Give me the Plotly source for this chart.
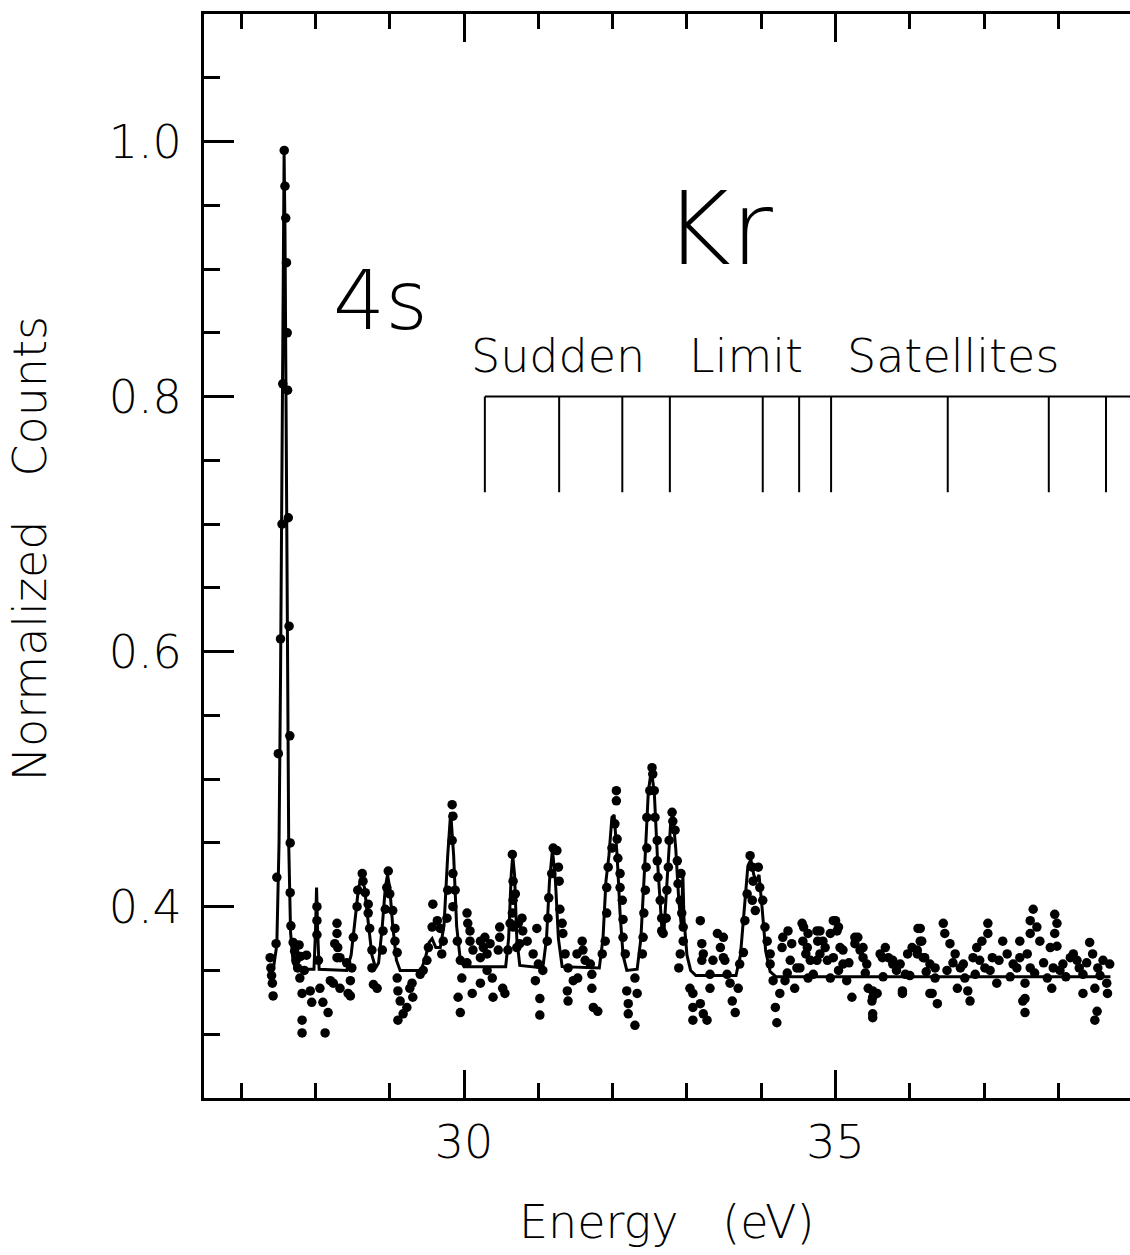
import plotly.graph_objects as go

# ---------------- data ----------------
data_E = [
    27.39, 27.40, 27.41, 27.42, 27.43, 27.47, 27.48, 27.50, 27.53, 27.55, 27.56, 27.58, 27.59, 27.60,
    27.61, 27.62, 27.625, 27.635, 27.645, 27.655, 27.66, 27.66, 27.67, 27.70,
    27.72, 27.74, 27.76, 27.78, 27.80, 27.79, 27.82, 27.85, 27.88, 27.93, 27.95, 27.82, 27.82,
    28.02, 28.02, 28.02, 28.04, 28.06, 28.10, 28.13, 28.17, 28.20, 28.24, 28.29, 28.29, 28.30, 28.29,
    28.33, 28.44,
    28.26, 28.33, 28.42, 28.49, 28.47, 28.47, 28.51, 28.56, 28.57, 28.63, 28.64, 28.67, 28.71, 28.71,
    28.73, 28.76, 28.76, 28.78, 28.83, 28.90, 28.91, 28.94, 28.96, 28.98, 29.00, 29.04, 29.07, 29.07,
    29.10, 29.10, 29.11, 29.14, 29.11, 29.18, 29.23, 29.27, 29.31, 29.30, 29.41, 29.45, 29.50, 29.52,
    29.57, 29.58, 29.64, 29.68, 29.72, 29.70, 29.77, 29.78, 29.84, 29.84, 29.85, 29.85, 29.88, 29.85,
    29.91, 29.95, 29.97, 29.92, 29.95, 30.11, 30.04, 30.05, 30.08, 30.08, 30.12, 30.04, 30.22, 30.26,
    30.31, 30.22, 30.28, 30.35, 30.22, 30.31, 30.38, 30.39, 30.48, 30.48, 30.46, 30.52, 30.55,
    30.59, 30.62, 30.65, 30.66, 30.66, 30.69, 30.65, 30.66, 30.71, 30.73, 30.78, 30.79, 30.85, 30.98,
    30.75, 30.93, 31.00, 30.96, 31.02, 31.02, 31.06,
    31.12, 31.13, 31.14, 31.18, 31.20, 31.25, 31.27, 31.28, 31.29, 31.32, 31.33, 31.36, 31.40, 31.39,
    31.40, 31.47, 31.52, 31.59, 31.60, 31.63, 31.70, 31.72, 31.74, 31.80, 31.72, 31.53,
    31.86, 31.90, 31.92, 31.92, 31.94, 31.99, 32.03, 32.05, 32.05, 32.06, 32.07, 32.10, 32.10, 32.13,
    32.14, 32.14, 32.17, 32.19, 32.21, 32.21, 32.30, 32.33, 32.30,
    32.40, 32.41, 32.42, 32.44, 32.45, 32.46, 32.46, 32.50, 32.53, 32.54, 32.56, 32.57, 32.60, 32.60,
    32.61, 32.64, 32.66, 32.66, 32.68,
    32.72, 32.73, 32.75, 32.76, 32.80, 32.81, 32.84, 32.87, 32.88, 32.91, 32.92, 32.93, 32.95, 32.95,
    32.91, 32.89,
    33.04, 33.08, 33.08, 33.08, 33.18, 33.20, 33.22, 33.20, 33.18, 33.22, 33.27, 33.31, 33.31, 33.35,
    33.41, 33.45, 33.49, 33.54, 33.49, 33.51, 33.58, 33.61, 33.65, 33.69, 33.71, 33.76, 33.78, 33.81,
    33.85, 33.88, 33.89, 33.88, 33.92, 33.96, 33.98, 34.02, 34.05, 34.08, 34.12, 34.12, 34.16, 34.19,
    34.21, 34.25, 34.32, 34.28, 34.29, 34.36, 34.41, 34.39, 34.48, 34.45, 34.55, 34.56, 34.62, 34.63,
    34.66, 34.75, 34.76, 34.79, 34.83, 34.89, 34.93, 35.00, 35.02, 35.06, 35.10, 35.15, 35.22, 35.26,
    35.33, 35.37, 35.44, 35.50, 35.50, 35.56, 35.60, 35.67, 35.71, 35.77, 35.90, 35.94, 36.03, 36.10,
    36.14, 36.14, 36.20, 36.27, 36.34, 36.37,
    34.57, 34.63, 34.60, 34.75, 34.79, 34.86, 34.93, 34.97, 35.04, 34.97, 35.10, 35.26, 35.30, 35.37,
    35.42, 35.50, 35.49, 35.50, 35.63, 35.77, 35.87, 35.90, 35.97, 36.11, 36.16, 36.10, 36.18, 36.27,
    36.34, 36.30,
    36.45, 36.47, 36.54, 36.61, 36.68, 36.64, 36.72, 36.74, 36.81, 36.78, 36.85, 36.90, 36.97, 37.05,
    37.05, 36.94, 37.01, 37.11, 37.17, 37.25, 37.31, 37.39, 37.48, 37.48, 37.52, 37.58, 37.62, 37.55,
    37.55, 37.55, 37.62, 37.66, 37.62, 37.71, 37.75, 37.89, 37.95, 37.98, 37.95, 37.98, 37.93, 37.91,
    38.06, 38.16, 38.20, 38.25, 38.33, 38.33, 38.42, 38.46, 38.53, 38.49, 38.52, 38.49, 38.60, 38.69,
    38.65, 38.66,
    36.50, 36.58, 36.88, 37.08, 37.20, 37.35, 37.44, 37.68, 37.80, 37.85, 38.02, 38.10, 38.28, 38.38,
    38.56, 34.35, 34.52, 34.70, 35.04, 35.18, 35.40, 35.64, 35.82, 36.00, 36.22,
]
data_counts = [
    0.360, 0.352, 0.346, 0.340, 0.330, 0.371, 0.423, 0.520, 0.610, 0.700, 0.810, 0.993, 0.965, 0.940,
    0.905, 0.850, 0.805, 0.705, 0.620, 0.534, 0.450, 0.411, 0.385, 0.372,
    0.365, 0.358, 0.352, 0.370, 0.361, 0.344, 0.332, 0.350, 0.362, 0.334, 0.325, 0.311, 0.301,
    0.400, 0.389, 0.378, 0.358, 0.336, 0.325, 0.301, 0.317, 0.342, 0.340, 0.387, 0.379, 0.368, 0.360,
    0.336, 0.332,
    0.371, 0.360, 0.356, 0.352, 0.342, 0.330, 0.376, 0.400, 0.413, 0.426, 0.420, 0.411, 0.402, 0.395,
    0.383, 0.366, 0.352, 0.339, 0.336, 0.366, 0.381, 0.398, 0.415, 0.428, 0.410, 0.397, 0.383, 0.373,
    0.364, 0.344, 0.334, 0.326, 0.311, 0.316, 0.321, 0.336, 0.329, 0.340, 0.347, 0.350, 0.358, 0.368,
    0.384, 0.402, 0.389, 0.383, 0.373, 0.363, 0.391, 0.413, 0.452, 0.480, 0.471, 0.426, 0.413, 0.400,
    0.373, 0.358, 0.344, 0.329, 0.317, 0.332, 0.395, 0.387, 0.381, 0.373, 0.366, 0.356, 0.373, 0.368,
    0.363, 0.360, 0.376, 0.371, 0.340, 0.350, 0.344, 0.329, 0.384, 0.376, 0.366, 0.336, 0.332,
    0.366, 0.387, 0.441, 0.420, 0.405, 0.410, 0.395, 0.384, 0.368, 0.387, 0.391, 0.381, 0.373, 0.383,
    0.371, 0.363, 0.355, 0.342, 0.328, 0.315, 0.350,
    0.373, 0.391, 0.407, 0.426, 0.446, 0.444, 0.431, 0.420, 0.398, 0.387, 0.379, 0.363, 0.352, 0.334,
    0.326, 0.342, 0.363, 0.373, 0.366, 0.358, 0.355, 0.336, 0.321, 0.318, 0.347, 0.344,
    0.363, 0.373, 0.395, 0.415, 0.431, 0.446, 0.465, 0.491, 0.483, 0.453, 0.438, 0.426, 0.415, 0.405,
    0.390, 0.376, 0.363, 0.334, 0.324, 0.316, 0.307, 0.332, 0.344,
    0.363, 0.376, 0.395, 0.413, 0.431, 0.446, 0.470, 0.491, 0.509, 0.504, 0.491, 0.470, 0.452, 0.436,
    0.423, 0.405, 0.391, 0.381, 0.379,
    0.391, 0.413, 0.431, 0.452, 0.474, 0.467, 0.460, 0.436, 0.418, 0.405, 0.426, 0.395, 0.384, 0.373,
    0.363, 0.352,
    0.336, 0.332, 0.321, 0.311, 0.389, 0.371, 0.363, 0.358, 0.324, 0.316, 0.311, 0.336, 0.347, 0.358,
    0.379, 0.368, 0.360, 0.347, 0.376, 0.358, 0.340, 0.326, 0.317, 0.336, 0.355, 0.364, 0.389, 0.410,
    0.440, 0.431, 0.420, 0.405, 0.397, 0.431, 0.415, 0.405, 0.384, 0.373, 0.363, 0.355, 0.342, 0.321,
    0.309, 0.332, 0.342, 0.368, 0.376, 0.381, 0.371, 0.358, 0.352, 0.336, 0.387, 0.373, 0.368, 0.344,
    0.358, 0.381, 0.373, 0.363, 0.373, 0.358, 0.344, 0.389, 0.381, 0.368, 0.355, 0.342, 0.329, 0.376,
    0.366, 0.360, 0.336, 0.316, 0.329, 0.332, 0.363, 0.368, 0.360, 0.355, 0.332, 0.347, 0.368, 0.363,
    0.383, 0.373, 0.360, 0.332, 0.352, 0.324,
    0.384, 0.379, 0.363, 0.358, 0.381, 0.368, 0.379, 0.389, 0.384, 0.360, 0.366, 0.371, 0.376, 0.368,
    0.355, 0.334, 0.326, 0.313, 0.360, 0.358, 0.355, 0.334, 0.363, 0.383, 0.373, 0.366, 0.360, 0.355,
    0.344, 0.332,
    0.387, 0.379, 0.371, 0.363, 0.352, 0.336, 0.355, 0.344, 0.326, 0.334, 0.360, 0.368, 0.373, 0.387,
    0.379, 0.358, 0.352, 0.360, 0.340, 0.373, 0.363, 0.355, 0.373, 0.360, 0.326, 0.363, 0.352, 0.340,
    0.328, 0.317, 0.379, 0.398, 0.389, 0.384, 0.373, 0.368, 0.394, 0.387, 0.379, 0.369, 0.352, 0.336,
    0.355, 0.360, 0.363, 0.358, 0.347, 0.332, 0.372, 0.363, 0.352, 0.336, 0.318, 0.311, 0.358, 0.355,
    0.340, 0.332,
    0.350, 0.356, 0.347, 0.350, 0.358, 0.345, 0.352, 0.348, 0.356, 0.344, 0.350, 0.345, 0.352, 0.356,
    0.346, 0.348, 0.352, 0.347, 0.350, 0.356, 0.348, 0.345, 0.350, 0.346, 0.349,
]

# fitted curve, vertices
fit_E = [
    27.36, 27.44, 27.48, 27.51, 27.53, 27.55, 27.565, 27.578, 27.59, 27.605, 27.62, 27.64, 27.665,
    27.70, 27.75, 27.98, 28.00, 28.015, 28.03, 28.05, 28.42, 28.48, 28.53, 28.58, 28.62, 28.66,
    28.71, 28.76, 28.81, 28.85, 28.90, 28.94, 28.97, 29.00, 29.04, 29.09, 29.14, 29.42, 29.48,
    29.53, 29.57, 29.62, 29.68, 29.73, 29.78, 29.82, 29.86, 29.90, 29.95, 30.00, 30.56, 30.60,
    30.635, 30.655, 30.68, 30.71, 30.75, 31.06, 31.11, 31.15, 31.19, 31.23, 31.27, 31.32, 31.82,
    31.87, 31.91, 31.95, 31.99, 32.02, 32.06, 32.10, 32.14, 32.19, 32.33, 32.38, 32.43, 32.48,
    32.52, 32.56, 32.61, 32.66, 32.69, 32.73, 32.78, 32.81, 32.85, 32.89, 32.925, 32.945, 32.96,
    33.00, 33.05, 33.12, 33.66, 33.72, 33.77, 33.82, 33.86, 33.90, 33.93, 33.97, 34.01, 34.06,
    34.12, 34.20, 38.70,
]
fit_counts = [
    0.352, 0.354, 0.370, 0.450, 0.580, 0.760, 0.920, 0.990, 0.930, 0.770, 0.590, 0.450, 0.380,
    0.356, 0.351, 0.351, 0.380, 0.415, 0.380, 0.351, 0.350, 0.362, 0.388, 0.415, 0.423, 0.415,
    0.388, 0.362, 0.352, 0.356, 0.385, 0.415, 0.425, 0.415, 0.385, 0.358, 0.350, 0.350, 0.360,
    0.372, 0.375, 0.368, 0.368, 0.385, 0.440, 0.474, 0.440, 0.385, 0.358, 0.353, 0.353, 0.375,
    0.425, 0.440, 0.425, 0.375, 0.354, 0.352, 0.375, 0.420, 0.445, 0.420, 0.375, 0.353, 0.352,
    0.375, 0.420, 0.440, 0.470, 0.472, 0.440, 0.395, 0.362, 0.350, 0.351, 0.375, 0.430, 0.490,
    0.507, 0.490, 0.430, 0.385, 0.380, 0.420, 0.465, 0.472, 0.445, 0.405, 0.385, 0.425, 0.390,
    0.362, 0.350, 0.346, 0.346, 0.362, 0.400, 0.432, 0.437, 0.425, 0.420, 0.425, 0.400, 0.365,
    0.349, 0.345, 0.345,
]

# sudden-limit satellite markers (eV) and bracket levels
satellite_E = [30.28, 31.28, 32.13, 32.77, 34.02, 34.51, 34.94, 36.51, 37.87, 38.64]
bracket_top = 0.80
bracket_bottom = 0.725

x_range = [26.5, 38.963]
y_range = [0.25, 1.10]

FONT = "DejaVu Sans"
W = 200
SP = "\u00a0\u00a0\u00a0"

fig = go.Figure()
fig.add_trace(go.Scatter(x=fit_E, y=fit_counts, mode="lines",
                         line=dict(color="black", width=3), showlegend=False, hoverinfo="skip"))
fig.add_trace(go.Scatter(x=data_E, y=data_counts, mode="markers",
                         marker=dict(color="black", size=9.5, line=dict(width=0)),
                         showlegend=False))

shapes = [dict(type="line", xref="x", yref="y", x0=satellite_E[0], x1=x_range[1],
               y0=bracket_top, y1=bracket_top, line=dict(color="black", width=2))]
for e in satellite_E:
    shapes.append(dict(type="line", xref="x", yref="y", x0=e, x1=e,
                       y0=bracket_top, y1=bracket_bottom, line=dict(color="black", width=2)))

annotations = [
    dict(text="Kr", x=33.42, y=0.932, xref="x", yref="y", showarrow=False,
         font=dict(size=102, family=FONT, color="black", weight=W)),
    dict(text="4s", x=28.88, y=0.875, xref="x", yref="y", showarrow=False,
         font=dict(size=82, family=FONT, color="black", weight=W)),
    dict(text="Sudden" + SP + "Limit" + SP + "Satellites", x=34.05, y=0.832,
         xref="x", yref="y", showarrow=False,
         font=dict(size=46, family=FONT, color="black", weight=W)),
    dict(text="Energy" + SP + "(eV)", x=0.499, y=-0.114, xref="paper", yref="paper",
         showarrow=False, xanchor="center", yanchor="middle",
         font=dict(size=46, family=FONT, color="black", weight=W)),
    dict(text="Normalized" + SP + "Counts", x=-0.188, y=0.507, xref="paper", yref="paper",
         showarrow=False, textangle=-90, xanchor="center", yanchor="middle",
         font=dict(size=46, family=FONT, color="black", weight=W)),
]

tickfont = dict(size=46, family=FONT, color="black", weight=W)

fig.update_layout(
    width=1130, height=1255,
    margin=dict(l=204, r=0, t=14, b=157),
    paper_bgcolor="white", plot_bgcolor="white",
    shapes=shapes, annotations=annotations,
    xaxis=dict(range=x_range, showline=True, linewidth=3, linecolor="black", mirror="ticks",
               ticks="inside", ticklen=28, tickwidth=3, tickcolor="black", dtick=5, tick0=0,
               minor=dict(dtick=1, tick0=0, ticks="inside", ticklen=15, tickwidth=3, tickcolor="black"),
               showgrid=False, zeroline=False, tickfont=tickfont, ticklabelstandoff=2),
    yaxis=dict(range=y_range, showline=True, linewidth=3, linecolor="black",
               ticks="inside", ticklen=30, tickwidth=3, tickcolor="black", dtick=0.2, tick0=0,
               tickformat=".1f",
               minor=dict(dtick=0.05, tick0=0, ticks="inside", ticklen=16, tickwidth=3, tickcolor="black"),
               showgrid=False, zeroline=False, tickfont=tickfont, ticklabelstandoff=10),
    yaxis2=dict(range=y_range, overlaying="y", side="right", showline=False,
                ticks="inside", ticklen=30, tickwidth=3, tickcolor="black", dtick=0.2, tick0=0,
                minor=dict(dtick=0.05, tick0=0, ticks="inside", ticklen=16, tickwidth=3, tickcolor="black"),
                showticklabels=False, showgrid=False, zeroline=False),
)

fig.write_html("out.html")
